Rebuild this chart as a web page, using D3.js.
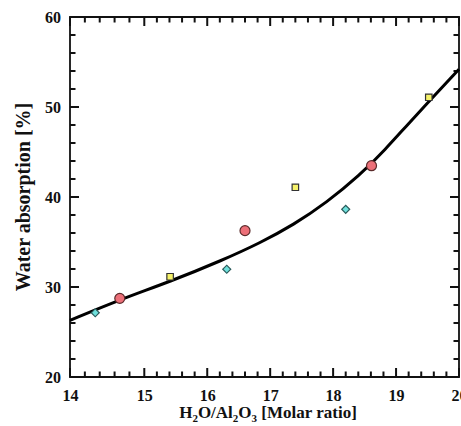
<!DOCTYPE html>
<html>
<head>
<meta charset="utf-8">
<script src="https://cdn.jsdelivr.net/npm/d3@7"></script>
<style>
  html, body { margin: 0; padding: 0; background: #fff; }
  svg text { font-family: "Liberation Serif", "Times New Roman", serif; font-weight: 700; fill: #111; }
</style>
</head>
<body>
<svg id="chart" width="461" height="426"></svg>
<script>
// ---- data ----
const xTicks = [14, 15, 16, 17, 18, 19, 20];
const yTicks = [20, 30, 40, 50, 60];
const circleX = [14.67, 16.6, 18.61];
const circleY = [28.74, 36.26, 43.48];
const squareX = [15.41, 17.40, 19.52];
const squareY = [31.14, 41.08, 51.08];
const diamondX = [14.34, 16.31, 18.2];
const diamondY = [27.14, 31.97, 38.63];
const fitX = [14.0, 14.67, 15.41, 16.25, 16.84, 17.37, 17.9, 18.42, 18.82, 19.24, 20.0];
const fitY = [26.3, 28.6, 30.6, 33.0, 34.9, 36.9, 39.4, 42.4, 45.2, 48.5, 54.2];

const svg = d3.select("#chart");
const L = 70, R = 459, T = 17, B = 377;

// x axis: reference places the 14 label at the left frame, then even spacing from 15 on
const x = d3.scaleLinear().domain([14, 15, 20]).range([L, 144.3, R]);
const y = d3.scaleLinear().domain([20, 60]).range([B, T]);

const minorX = d3.range(14.2, 20, 0.2).filter(v => Math.abs(v - Math.round(v)) > 1e-6);
const minorY = d3.range(22, 60, 2).filter(v => v % 10 !== 0);

// frame
svg.append("path")
  .attr("d", `M${L},${T}H${R}V${B}H${L}Z`)
  .attr("fill", "none").attr("stroke", "#111").attr("stroke-width", 1.8);

// tick labels via d3 axes
svg.append("g").attr("transform", `translate(0,${B})`)
  .call(d3.axisBottom(x).tickValues(xTicks).tickSize(0).tickPadding(13).tickFormat(d3.format("d")))
  .call(g => g.select(".domain").remove())
  .call(g => g.selectAll("text").attr("font-size", 16).attr("font-family", "Liberation Serif, serif").attr("font-weight", 700));
svg.append("g").attr("transform", `translate(${L},0)`)
  .call(d3.axisLeft(y).tickValues(yTicks).tickSize(0).tickPadding(9).tickFormat(d3.format("d")))
  .call(g => g.select(".domain").remove())
  .call(g => g.selectAll("text").attr("font-size", 16).attr("font-family", "Liberation Serif, serif").attr("font-weight", 700));

// inward ticks on all four sides, as one path from the scales
const xTickData = xTicks.map(v => [v, 9]).concat(minorX.map(v => [v, 5.5]));
const yTickData = yTicks.map(v => [v, 9]).concat(minorY.map(v => [v, 5.5]));
let td = "";
xTickData.forEach(([v, len]) => {
  const px = x(v);
  td += `M${px},${B}V${B - len}M${px},${T}V${T + len}`;
});
yTickData.forEach(([v, len]) => {
  const py = y(v);
  td += `M${L},${py}H${L + len}M${R},${py}H${R - len}`;
});
svg.append("path").attr("d", td)
  .attr("fill", "none").attr("stroke", "#111").attr("stroke-width", 2);

// fit curve
const fit = fitX.map((v, i) => [v, fitY[i]]);
svg.append("path").datum(fit)
  .attr("fill", "none").attr("stroke", "#000").attr("stroke-width", 3)
  .attr("d", d3.line().x(d => x(d[0])).y(d => y(d[1])).curve(d3.curveBasis));

// markers
const circles = circleX.map((v, i) => [v, circleY[i]]);
const squares = squareX.map((v, i) => [v, squareY[i]]);
const diamonds = diamondX.map((v, i) => [v, diamondY[i]]);

svg.append("g").selectAll("path").data(squares).join("path")
  .attr("transform", d => `translate(${x(d[0])},${y(d[1])})`)
  .attr("d", d3.symbol(d3.symbolSquare, 42))
  .attr("fill", "#f6f26a").attr("stroke", "#333").attr("stroke-width", 1.2);

svg.append("g").selectAll("path").data(diamonds).join("path")
  .attr("transform", d => `translate(${x(d[0])},${y(d[1])}) rotate(45)`)
  .attr("d", d3.symbol(d3.symbolSquare, 32))
  .attr("fill", "#6fe0dc").attr("stroke", "#2a5a5a").attr("stroke-width", 1.2);

svg.append("g").selectAll("circle").data(circles).join("circle")
  .attr("cx", d => x(d[0])).attr("cy", d => y(d[1])).attr("r", 5)
  .attr("fill", "#ec6f78").attr("stroke", "#5a2a2a").attr("stroke-width", 1.2);

// axis titles
const xt = svg.append("text").attr("x", 268).attr("y", 418)
  .attr("text-anchor", "middle").attr("font-size", 17);
xt.append("tspan").text("H");
xt.append("tspan").text("2").attr("font-size", 11).attr("dy", 4);
xt.append("tspan").text("O/Al").attr("dy", -4);
xt.append("tspan").text("2").attr("font-size", 11).attr("dy", 4);
xt.append("tspan").text("O").attr("dy", -4);
xt.append("tspan").text("3").attr("font-size", 11).attr("dy", 4);
xt.append("tspan").text(" [Molar ratio]").attr("dy", -4);

svg.append("text").attr("transform", `translate(30,197) rotate(-90)`)
  .attr("text-anchor", "middle").attr("font-size", 20).text("Water absorption [%]");
</script>
</body>
</html>
